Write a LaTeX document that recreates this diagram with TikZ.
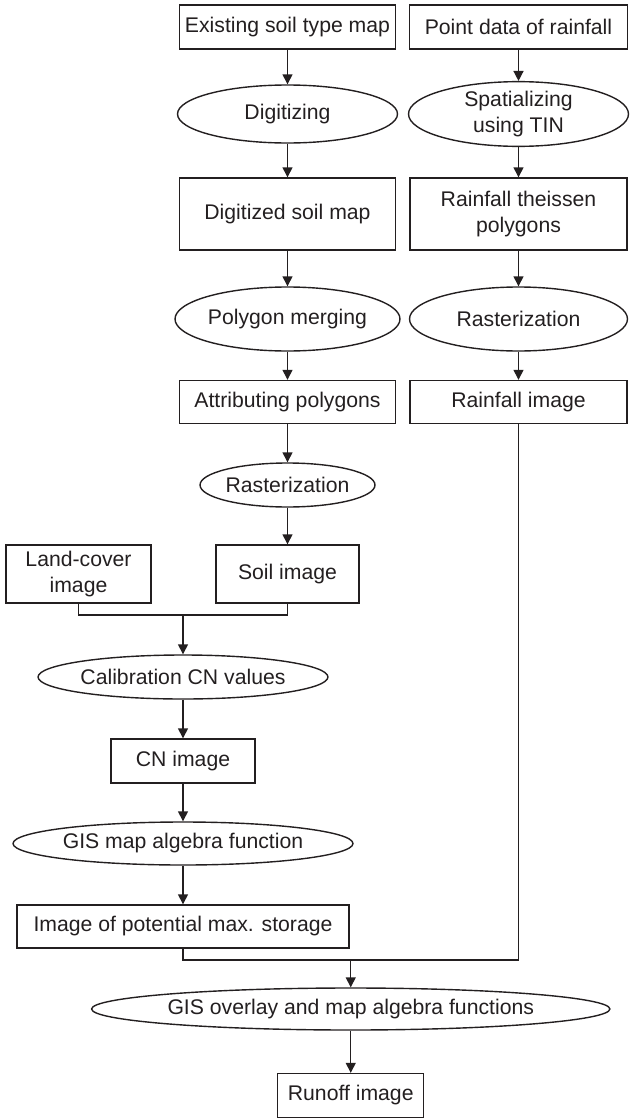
\documentclass[tikz,border=0pt]{standalone}
\usepackage{fontspec}
\setmainfont{Liberation Sans}
\usetikzlibrary{arrows.meta,positioning,shapes.geometric,calc}
\definecolor{fInk}{RGB}{35,31,32}

\begin{document}
\begin{tikzpicture}[
			x=0.5pt,y=-0.5pt,
			>={Triangle[length=5pt,width=5pt]},
			font=\fontsize{10.6}{13}\selectfont,
			b/.style={
				draw=fInk,
				text=fInk,
				line width=0.7pt,
				inner sep=0pt,
				align=center
			},
			e/.style={
				ellipse,
				draw=fInk,
				text=fInk,
				line width=0.7pt,
				inner sep=0pt,
				align=center
			},
			c/.style={->,draw=fInk,line width=0.7pt}
			]
			\useasboundingbox (0,0) rectangle (631,1119);
			% soil branch
			\node[b,minimum width=108pt,minimum height=22pt](soilmap) at (287.5,27){Existing soil type map};
			\node[e,minimum width=110pt,minimum height=29pt](digit) at (287.5,114){Digitizing};
			\node[b,minimum width=108pt,minimum height=36pt](digmap) at (287.5,214){Digitized soil map};
			\node[e,minimum width=111pt,minimum height=32pt](merge) at (287.5,319){Polygon merging};
			\node[b,minimum width=108pt,minimum height=21.5pt](attrib) at (287.5,402){Attributing polygons};
			\node[e,minimum width=72pt,minimum height=22pt](rastL) at (287.5,485){Rasterization};
			\node[b,minimum width=71.5pt,minimum height=29pt](soilimg) at (287.5,574){Soil image};
			\node[b,minimum width=72.5pt,minimum height=29pt](landimg) at (78.5,574){Land-cover\\image};
			% rainfall branch
			\node[b,minimum width=109pt,minimum height=22pt](rainpts) at (518.5,27){Point data of rainfall};
			\node[e,minimum width=110pt,minimum height=29pt](tin) at (518.5,114){Spatializing\\using TIN};
			\node[b,minimum width=108.5pt,minimum height=36pt](theissen) at (518.5,214){Rainfall theissen\\polygons};
			\node[e,minimum width=109pt,minimum height=32pt](rastR) at (518.5,319){Rasterization};
			\node[b,minimum width=108.5pt,minimum height=21.5pt](rainimg) at (518.5,402){Rainfall image};
			% CN branch
			\node[e,minimum width=116.5pt,minimum height=22pt](calib) at (183,677){Calibration CN values};
			\node[b,minimum width=72pt,minimum height=22pt](cnimg) at (183,761){CN image};
			\node[e,minimum width=151.5pt,minimum height=21.5pt](algebra) at (183,843.5){GIS map algebra function};
			\node[b,minimum width=166pt,minimum height=21.5pt](storage) at (183,926.5){Image of potential max. storage};
			% result
			\node[e,minimum width=216pt,minimum height=21pt](overlay) at (350.75,1009){GIS overlay and map algebra functions};
			\node[b,minimum width=73pt,minimum height=22pt](runoff) at (350.75,1095.5){Runoff image};
			\coordinate (j1) at (183,615);
			\coordinate (j2) at (350.75,960);
			\draw[c](soilmap)--(digit);
			\draw[c](digit)--(digmap);
			\draw[c](digmap)--(merge);
			\draw[c](merge)--(attrib);
			\draw[c](attrib)--(rastL);
			\draw[c](rastL)--(soilimg);
			\draw[c](rainpts)--(tin);
			\draw[c](tin)--(theissen);
			\draw[c](theissen)--(rastR);
			\draw[c](rastR)--(rainimg);
			\draw[draw=fInk,line width=0.7pt](landimg.south)|-(j1)-|(soilimg.south);
			\draw[c](j1)--(calib);
			\draw[c](calib)--(cnimg);
			\draw[c](cnimg)--(algebra);
			\draw[c](algebra)--(storage);
			\draw[draw=fInk,line width=0.7pt](storage.south)|-(j2)-|(rainimg.south);
			\draw[c](j2)--(overlay);
			\draw[c](overlay)--(runoff);
		\end{tikzpicture}
\end{document}
